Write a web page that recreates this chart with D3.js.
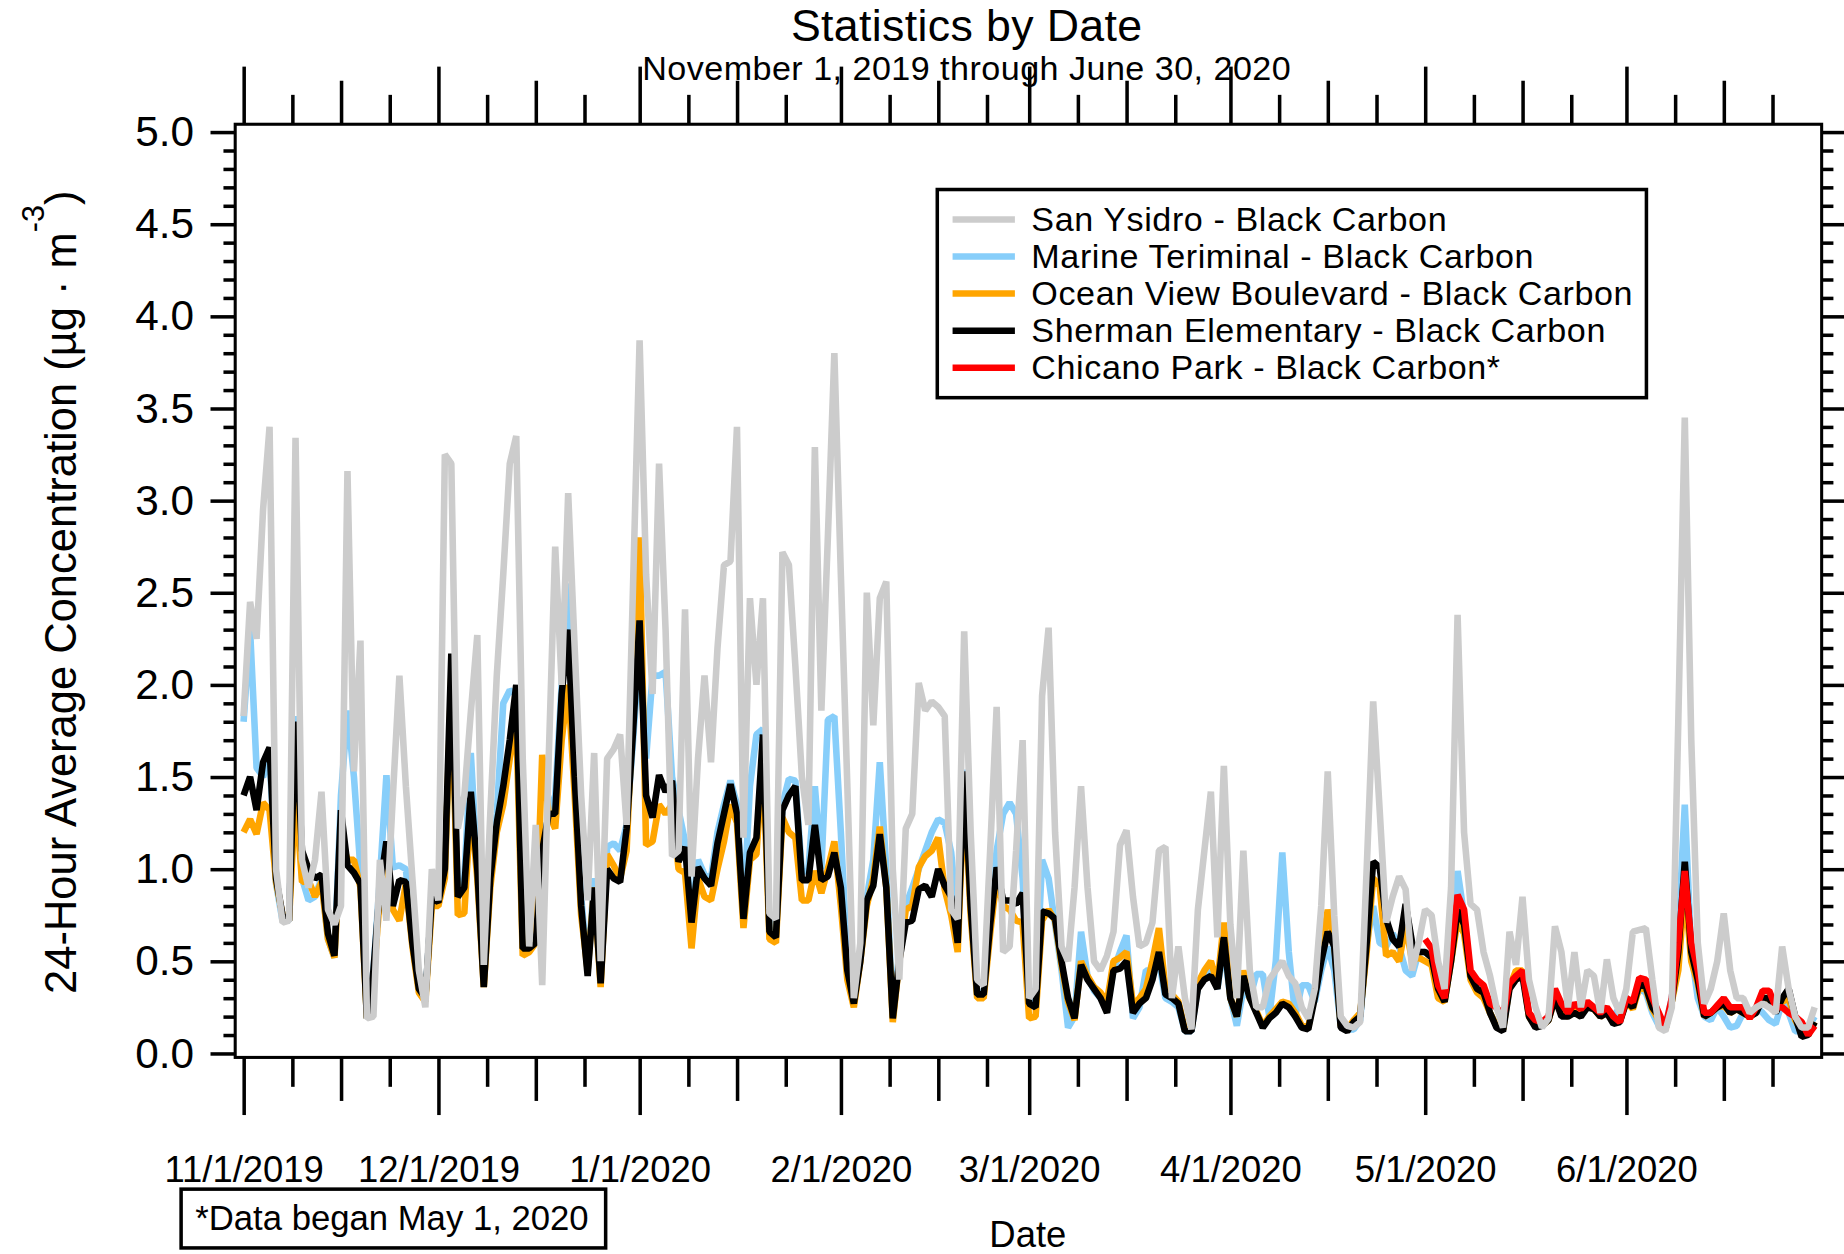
<!DOCTYPE html>
<html>
<head>
<meta charset="utf-8">
<script src="https://cdn.jsdelivr.net/npm/d3@7"></script>
<style>
  html, body { margin: 0; padding: 0; background: #fff; }
  svg { display: block; }
  text { font-family: "Liberation Sans", Arial, sans-serif; fill: #000; }
</style>
</head>
<body>
<div id="chart"></div>
<script>
// one 24-hour average per day, first value on the start date
var startDate = new Date(2019, 10, 1);     // Nov 1, 2019
var chicanoStart = new Date(2020, 4, 1);   // May 1, 2020

var sanYsidro = [
  // Nov
  1.83, 2.45, 2.25, 2.95, 3.40, 1.00, 0.71, 0.72, 3.34, 1.05, 0.90, 1.05, 1.42, 0.78, 0.70,
  0.80, 3.16, 1.53, 2.24, 0.19, 0.20, 1.05, 0.72, 1.40, 2.05, 1.45, 0.95, 0.45, 0.25, 1.00,
  // Dec
  0.83, 3.25, 3.20, 1.22, 1.40, 1.85, 2.27, 0.48, 1.30, 2.05, 2.60, 3.20, 3.35, 1.60, 0.58, 1.24,
  0.37, 1.60, 2.75, 2.00, 3.04, 2.20, 1.40, 0.83, 1.63, 0.50, 1.60, 1.65, 1.73, 1.24, 2.55,
  // Jan
  3.87, 2.60, 1.95, 3.20, 2.30, 1.07, 1.10, 2.41, 0.96, 1.60, 2.05, 1.58, 2.20, 2.65, 2.67, 3.40,
  1.17, 2.47, 2.00, 2.47, 0.76, 0.73, 2.72, 2.65, 2.10, 1.50, 1.24, 3.29, 1.86, 2.80, 3.80,
  // Feb
  2.60, 1.45, 0.30, 0.60, 2.50, 1.78, 2.47, 2.56, 1.00, 0.40, 1.22, 1.30, 2.01, 1.86, 1.91,
  1.88, 1.83, 0.78, 0.73, 2.29, 1.20, 0.40, 0.37, 1.10, 1.88, 0.55, 0.58, 1.10, 1.70,
  // Mar
  0.30, 0.35, 1.94, 2.31, 1.20, 0.58, 0.50, 0.90, 1.45, 0.90, 0.50, 0.45, 0.53, 0.66, 1.13, 1.21,
  0.85, 0.58, 0.60, 0.71, 1.10, 1.12, 0.30, 0.58, 0.30, 0.13, 0.78, 1.10, 1.42, 0.63, 1.56,
  // Apr
  0.70, 0.30, 1.10, 0.45, 0.25, 0.25, 0.40, 0.45, 0.50, 0.42, 0.38, 0.25, 0.19, 0.35, 0.80,
  1.53, 0.75, 0.20, 0.15, 0.14, 0.17, 1.00, 1.91, 1.32, 0.71, 0.85, 0.96, 0.89, 0.45, 0.60,
  // May
  0.78, 0.75, 0.50, 0.35, 0.90, 2.38, 1.20, 0.81, 0.78, 0.55, 0.42, 0.25, 0.14, 0.66, 0.48, 0.85,
  0.40, 0.25, 0.14, 0.19, 0.69, 0.55, 0.25, 0.55, 0.25, 0.45, 0.42, 0.22, 0.51, 0.30, 0.22,
  // Jun
  0.35, 0.66, 0.67, 0.68, 0.40, 0.14, 0.12, 0.25, 1.80, 3.45, 1.70, 0.60, 0.27, 0.35, 0.50,
  0.76, 0.45, 0.30, 0.30, 0.22, 0.25, 0.27, 0.25, 0.22, 0.58, 0.35, 0.20, 0.14, 0.14, 0.25
];

var marineTerminal = [
  1.80, 2.30, 1.55, 1.50, 1.62, 0.92, 0.72, 0.72, 1.83, 0.95, 0.83, 0.85, 0.95, 0.62, 0.52,
  1.40, 1.86, 1.50, 1.00, 0.19, 0.45, 0.95, 1.51, 1.01, 1.02, 1.00, 0.62, 0.35, 0.30, 0.85,
  0.85, 1.00, 1.95, 0.88, 0.95, 1.63, 1.00, 0.40, 1.00, 1.30, 1.90, 1.97, 1.95, 0.60, 0.60, 0.62,
  1.10, 1.30, 1.40, 2.00, 2.55, 1.55, 0.85, 0.45, 0.95, 0.42, 1.12, 1.14, 1.10, 1.24, 1.70,
  2.20, 1.60, 2.05, 2.05, 2.07, 1.50, 1.32, 1.15, 0.75, 1.05, 0.97, 0.95, 1.20, 1.35, 1.48, 1.35,
  0.75, 1.45, 1.73, 1.76, 0.68, 0.65, 1.35, 1.49, 1.48, 0.98, 1.00, 1.45, 1.00, 1.81, 1.83,
  1.20, 0.50, 0.28, 0.55, 0.85, 1.05, 1.58, 1.00, 0.20, 0.55, 0.80, 0.90, 1.00, 1.10, 1.20,
  1.27, 1.25, 1.09, 0.70, 1.54, 0.80, 0.33, 0.32, 0.75, 1.10, 1.30, 1.36, 1.30, 0.95,
  0.28, 0.30, 1.05, 0.95, 0.70, 0.45, 0.14, 0.20, 0.66, 0.42, 0.34, 0.30, 0.25, 0.45, 0.55, 0.64,
  0.19, 0.25, 0.45, 0.45, 0.50, 0.30, 0.28, 0.25, 0.12, 0.12, 0.36, 0.42, 0.45, 0.35, 0.58,
  0.30, 0.15, 0.35, 0.30, 0.43, 0.43, 0.20, 0.50, 1.09, 0.55, 0.20, 0.37, 0.37, 0.28, 0.45,
  0.58, 0.45, 0.15, 0.13, 0.13, 0.18, 0.60, 0.80, 0.60, 0.58, 0.65, 0.58, 0.45, 0.42, 0.55,
  0.55, 0.52, 0.40, 0.30, 0.55, 0.99, 0.75, 0.42, 0.38, 0.33, 0.22, 0.15, 0.14, 0.38, 0.42, 0.45,
  0.22, 0.15, 0.15, 0.20, 0.33, 0.25, 0.22, 0.26, 0.24, 0.27, 0.25, 0.20, 0.24, 0.20, 0.25,
  0.30, 0.27, 0.35, 0.33, 0.22, 0.15, 0.15, 0.30, 0.65, 1.35, 0.55, 0.30, 0.20, 0.18, 0.25,
  0.20, 0.14, 0.15, 0.22, 0.20, 0.25, 0.22, 0.18, 0.16, 0.28, 0.22, 0.12, 0.12, 0.14, 0.20
];

var oceanView = [
  1.20, 1.27, 1.19, 1.36, 1.32, 0.93, 0.75, 0.72, 1.42, 0.93, 0.94, 0.85, 0.93, 0.62, 0.52,
  1.17, 1.05, 1.05, 0.90, 0.19, 0.40, 0.85, 1.10, 0.78, 0.72, 0.92, 0.58, 0.33, 0.28, 0.80,
  0.80, 0.95, 2.05, 0.75, 0.76, 1.35, 0.95, 0.36, 0.90, 1.20, 1.35, 1.60, 1.80, 0.53, 0.55, 0.60,
  1.62, 1.30, 1.22, 1.70, 2.00, 1.40, 0.75, 0.45, 0.90, 0.36, 1.08, 1.02, 0.95, 1.10, 1.90,
  2.80, 1.13, 1.15, 1.35, 1.30, 1.35, 1.00, 0.98, 0.57, 0.95, 0.85, 0.83, 1.00, 1.15, 1.35, 1.25,
  0.68, 1.05, 1.08, 1.60, 0.62, 0.60, 1.28, 1.20, 1.17, 0.83, 0.83, 0.99, 0.87, 1.00, 1.15,
  0.80, 0.40, 0.25, 0.50, 0.80, 0.95, 1.23, 0.90, 0.17, 0.50, 0.78, 0.80, 1.01, 1.07, 1.10,
  1.17, 0.89, 0.75, 0.55, 1.45, 0.75, 0.30, 0.30, 0.65, 0.95, 0.80, 0.78, 0.72, 0.71,
  0.19, 0.20, 0.72, 0.78, 0.72, 0.48, 0.28, 0.18, 0.50, 0.42, 0.36, 0.33, 0.28, 0.50, 0.52, 0.55,
  0.26, 0.30, 0.35, 0.50, 0.68, 0.35, 0.32, 0.28, 0.13, 0.13, 0.38, 0.45, 0.50, 0.38, 0.71,
  0.30, 0.20, 0.45, 0.30, 0.23, 0.15, 0.20, 0.24, 0.28, 0.27, 0.22, 0.15, 0.14, 0.33, 0.55,
  0.78, 0.60, 0.15, 0.13, 0.18, 0.22, 0.55, 0.95, 0.91, 0.53, 0.55, 0.50, 0.70, 0.50, 0.52,
  0.50, 0.48, 0.30, 0.28, 0.50, 0.72, 0.65, 0.40, 0.33, 0.30, 0.22, 0.15, 0.13, 0.36, 0.45, 0.45,
  0.20, 0.15, 0.15, 0.18, 0.30, 0.22, 0.20, 0.24, 0.22, 0.26, 0.24, 0.20, 0.22, 0.17, 0.18,
  0.28, 0.24, 0.36, 0.35, 0.24, 0.18, 0.13, 0.28, 0.45, 0.90, 0.50, 0.38, 0.20, 0.22, 0.25,
  0.26, 0.22, 0.24, 0.22, 0.20, 0.24, 0.30, 0.30, 0.23, 0.28, 0.30, 0.18, 0.12, 0.10, 0.17
];

var sherman = [
  1.40, 1.50, 1.32, 1.58, 1.66, 0.95, 0.75, 0.72, 1.80, 1.10, 1.00, 0.95, 0.97, 0.65, 0.53,
  1.32, 1.02, 0.98, 0.92, 0.19, 0.45, 0.90, 1.15, 0.80, 0.94, 0.93, 0.60, 0.35, 0.30, 0.85,
  0.82, 1.00, 2.17, 0.85, 0.90, 1.42, 1.00, 0.36, 0.95, 1.25, 1.45, 1.70, 2.00, 0.57, 0.57, 0.60,
  1.10, 1.30, 1.30, 1.95, 2.30, 1.50, 0.80, 0.42, 0.90, 0.38, 1.00, 0.95, 0.93, 1.22, 1.75,
  2.35, 1.40, 1.28, 1.51, 1.42, 1.48, 1.04, 1.12, 0.71, 1.01, 0.95, 0.91, 1.14, 1.30, 1.46, 1.30,
  0.73, 1.09, 1.17, 1.73, 0.66, 0.63, 1.32, 1.40, 1.45, 0.94, 0.94, 1.24, 0.94, 0.96, 1.09,
  0.90, 0.45, 0.27, 0.50, 0.83, 0.91, 1.19, 0.90, 0.19, 0.50, 0.71, 0.72, 0.89, 0.91, 0.85,
  1.00, 0.91, 0.85, 0.60, 1.53, 0.80, 0.32, 0.32, 0.70, 1.01, 0.83, 0.83, 0.81, 0.87,
  0.27, 0.25, 0.77, 0.76, 0.73, 0.50, 0.30, 0.19, 0.48, 0.40, 0.35, 0.30, 0.22, 0.45, 0.46, 0.50,
  0.22, 0.27, 0.30, 0.40, 0.55, 0.32, 0.30, 0.27, 0.12, 0.12, 0.35, 0.40, 0.42, 0.35, 0.63,
  0.30, 0.20, 0.42, 0.30, 0.22, 0.14, 0.19, 0.22, 0.27, 0.25, 0.20, 0.14, 0.13, 0.30, 0.50,
  0.66, 0.58, 0.14, 0.12, 0.17, 0.20, 0.60, 1.04, 1.01, 0.73, 0.62, 0.58, 0.81, 0.60, 0.55,
  0.55, 0.52, 0.35, 0.28, 0.50, 0.78, 0.70, 0.42, 0.35, 0.33, 0.22, 0.14, 0.12, 0.35, 0.40, 0.42,
  0.20, 0.14, 0.15, 0.18, 0.30, 0.20, 0.20, 0.22, 0.20, 0.25, 0.24, 0.20, 0.22, 0.16, 0.17,
  0.28, 0.25, 0.38, 0.36, 0.25, 0.20, 0.13, 0.28, 0.55, 1.04, 0.55, 0.40, 0.20, 0.22, 0.25,
  0.27, 0.22, 0.24, 0.22, 0.20, 0.22, 0.30, 0.30, 0.22, 0.30, 0.35, 0.20, 0.09, 0.10, 0.17
];

var chicanoPark = [
  // May
  0.62, 0.57, 0.37, 0.30, 0.55, 0.86, 0.78, 0.45, 0.40, 0.37, 0.27, 0.25, 0.20, 0.38, 0.42, 0.45,
  0.22, 0.18, 0.17, 0.20, 0.35, 0.27, 0.22, 0.27, 0.24, 0.28, 0.25, 0.22, 0.25, 0.20, 0.17,
  // Jun
  0.30, 0.28, 0.41, 0.40, 0.30, 0.22, 0.14, 0.30, 0.60, 0.99, 0.60, 0.45, 0.22, 0.22, 0.26,
  0.30, 0.25, 0.25, 0.25, 0.19, 0.25, 0.34, 0.34, 0.25, 0.25, 0.22, 0.20, 0.17, 0.10, 0.15
];

var seriesNames = [
  "San Ysidro - Black Carbon",
  "Marine Teriminal - Black Carbon",
  "Ocean View Boulevard - Black Carbon",
  "Sherman Elementary - Black Carbon",
  "Chicano Park - Black Carbon*"
];
var seriesColors = ["#cccccc", "#87cefa", "#ffa500", "#000000", "#ff0000"];

var monthLabels = ["11/1/2019", "12/1/2019", "1/1/2020", "2/1/2020",
                   "3/1/2020", "4/1/2020", "5/1/2020", "6/1/2020"];
var yMajor = [0, 0.5, 1.0, 1.5, 2.0, 2.5, 3.0, 3.5, 4.0, 4.5, 5.0];

// ---- layout (drawn in a 1568 x 1066 box, scaled to the window) ----
var svg = d3.select("#chart").append("svg")
    .attr("width", 1844)
    .attr("height", 1254)
    .attr("viewBox", "0 0 1568 1066");

var plot = { left: 200, right: 1549, top: 105.5, bottom: 899 };

var x = d3.scaleTime()
    .domain([new Date(2019, 9, 30, 17), new Date(2020, 6, 1, 2)])
    .range([plot.left, plot.right]);

var y = d3.scaleLinear()
    .domain([-0.022, 5.042])
    .range([plot.bottom, plot.top]);

svg.append("defs").append("clipPath")
    .attr("id", "plotclip")
    .append("rect")
    .attr("x", plot.left)
    .attr("y", plot.top)
    .attr("width", plot.right - plot.left)
    .attr("height", plot.bottom - plot.top);

// draw order: gray ends up on top
var traces = [
  { values: marineTerminal, start: startDate, color: seriesColors[1] },
  { values: oceanView, start: startDate, color: seriesColors[2] },
  { values: sherman, start: startDate, color: seriesColors[3] },
  { values: chicanoPark, start: chicanoStart, color: seriesColors[4] },
  { values: sanYsidro, start: startDate, color: seriesColors[0] }
];

var lines = svg.append("g").attr("clip-path", "url(#plotclip)");

traces.forEach(function (t) {
    var line = d3.line()
        .x(function (d, i) { return x(d3.timeDay.offset(t.start, i)); })
        .y(function (d) { return y(d); });
    lines.append("path")
        .datum(t.values)
        .attr("fill", "none")
        .attr("stroke", t.color)
        .attr("stroke-width", 5.6)
        .attr("stroke-linejoin", "bevel")
        .attr("d", line);
});

// ---- frame and axes ----
svg.append("rect")
    .attr("x", plot.left)
    .attr("y", plot.top)
    .attr("width", plot.right - plot.left)
    .attr("height", plot.bottom - plot.top)
    .attr("fill", "none")
    .attr("stroke", "#000")
    .attr("stroke-width", 2.6);

function styleAxis(g) {
    g.select(".domain").remove();
    g.selectAll(".tick line").attr("stroke", "#000").attr("stroke-width", 3);
}

var yMinor = d3.range(0, 51).map(function (i) { return i / 10; })
    .filter(function (v) { return Math.round(v * 10) % 5 !== 0; });

var leftMajor = svg.append("g")
    .attr("transform", `translate(${plot.left},0)`)
    .call(d3.axisLeft(y).tickValues(yMajor).tickSize(21).tickPadding(14)
        .tickFormat(d3.format(".1f")))
    .call(styleAxis);
leftMajor.selectAll("text")
    .style("font-family", "Liberation Sans, Arial, sans-serif")
    .style("font-size", "36px");

svg.append("g")
    .attr("transform", `translate(${plot.left},0)`)
    .call(d3.axisLeft(y).tickValues(yMinor).tickSize(10).tickFormat(""))
    .call(styleAxis);

svg.append("g")
    .attr("transform", `translate(${plot.right},0)`)
    .call(d3.axisRight(y).tickValues(yMajor).tickSize(21).tickFormat(""))
    .call(styleAxis);

svg.append("g")
    .attr("transform", `translate(${plot.right},0)`)
    .call(d3.axisRight(y).tickValues(yMinor).tickSize(10).tickFormat(""))
    .call(styleAxis);

// month starts, then ticks every 7.5 days inside each month
var months = d3.timeMonth.range(new Date(2019, 10, 1), new Date(2020, 6, 1));
var midTicks = months.map(function (m) { return d3.timeHour.offset(m, 360); });
var quarterTicks = [];
months.forEach(function (m) {
    quarterTicks.push(d3.timeHour.offset(m, 180));
    quarterTicks.push(d3.timeHour.offset(m, 540));
});

var bottomMajor = svg.append("g")
    .attr("transform", `translate(0,${plot.bottom})`)
    .call(d3.axisBottom(x).tickValues(months).tickSize(49).tickPadding(35)
        .tickFormat(function (d, i) { return monthLabels[i]; }))
    .call(styleAxis);
bottomMajor.selectAll("text")
    .style("font-family", "Liberation Sans, Arial, sans-serif")
    .style("font-size", "31px");

svg.append("g")
    .attr("transform", `translate(0,${plot.bottom})`)
    .call(d3.axisBottom(x).tickValues(midTicks).tickSize(37).tickFormat(""))
    .call(styleAxis);
svg.append("g")
    .attr("transform", `translate(0,${plot.bottom})`)
    .call(d3.axisBottom(x).tickValues(quarterTicks).tickSize(25).tickFormat(""))
    .call(styleAxis);

svg.append("g")
    .attr("transform", `translate(0,${plot.top})`)
    .call(d3.axisTop(x).tickValues(months).tickSize(49).tickFormat(""))
    .call(styleAxis);
svg.append("g")
    .attr("transform", `translate(0,${plot.top})`)
    .call(d3.axisTop(x).tickValues(midTicks).tickSize(37).tickFormat(""))
    .call(styleAxis);
svg.append("g")
    .attr("transform", `translate(0,${plot.top})`)
    .call(d3.axisTop(x).tickValues(quarterTicks).tickSize(25).tickFormat(""))
    .call(styleAxis);

// ---- titles ----
svg.append("text")
    .attr("x", 822)
    .attr("y", 34.5)
    .attr("text-anchor", "middle")
    .style("font-size", "38px")
    .style("letter-spacing", "0.3px")
    .text("Statistics by Date");

svg.append("text")
    .attr("x", 822)
    .attr("y", 68)
    .attr("text-anchor", "middle")
    .style("font-size", "29px")
    .style("letter-spacing", "0.4px")
    .text("November 1, 2019 through June 30, 2020");

svg.append("text")
    .attr("x", 874)
    .attr("y", 1060)
    .attr("text-anchor", "middle")
    .style("font-size", "31px")
    .text("Date");

var yTitle = svg.append("text")
    .attr("transform", "translate(65,845) rotate(-90)")
    .style("font-size", "37px");
yTitle.append("tspan").text("24-Hour Average Concentration (\u00b5g \u00b7 m");
yTitle.append("tspan").attr("dy", -28).style("font-size", "26px").text("-3");
yTitle.append("tspan").attr("dy", 28).style("font-size", "37px").text(")");

// ---- legend ----
var legend = svg.append("g");
legend.append("rect")
    .attr("x", 797)
    .attr("y", 161)
    .attr("width", 603)
    .attr("height", 177)
    .attr("fill", "#fff")
    .attr("stroke", "#000")
    .attr("stroke-width", 3);

seriesNames.forEach(function (name, i) {
    var cy = 186.5 + i * 31.5;
    legend.append("line")
        .attr("x1", 810).attr("x2", 863)
        .attr("y1", cy).attr("y2", cy)
        .attr("stroke", seriesColors[i])
        .attr("stroke-width", 5.5);
    legend.append("text")
        .attr("x", 877)
        .attr("y", cy + 9.5)
        .style("font-size", "29px")
        .style("letter-spacing", "0.5px")
        .text(name);
});

// ---- footnote ----
svg.append("rect")
    .attr("x", 154)
    .attr("y", 1011)
    .attr("width", 361)
    .attr("height", 50)
    .attr("fill", "#fff")
    .attr("stroke", "#000")
    .attr("stroke-width", 3);
svg.append("text")
    .attr("x", 166)
    .attr("y", 1046)
    .style("font-size", "29.5px")
    .text("*Data began May 1, 2020");
</script>
</body>
</html>
